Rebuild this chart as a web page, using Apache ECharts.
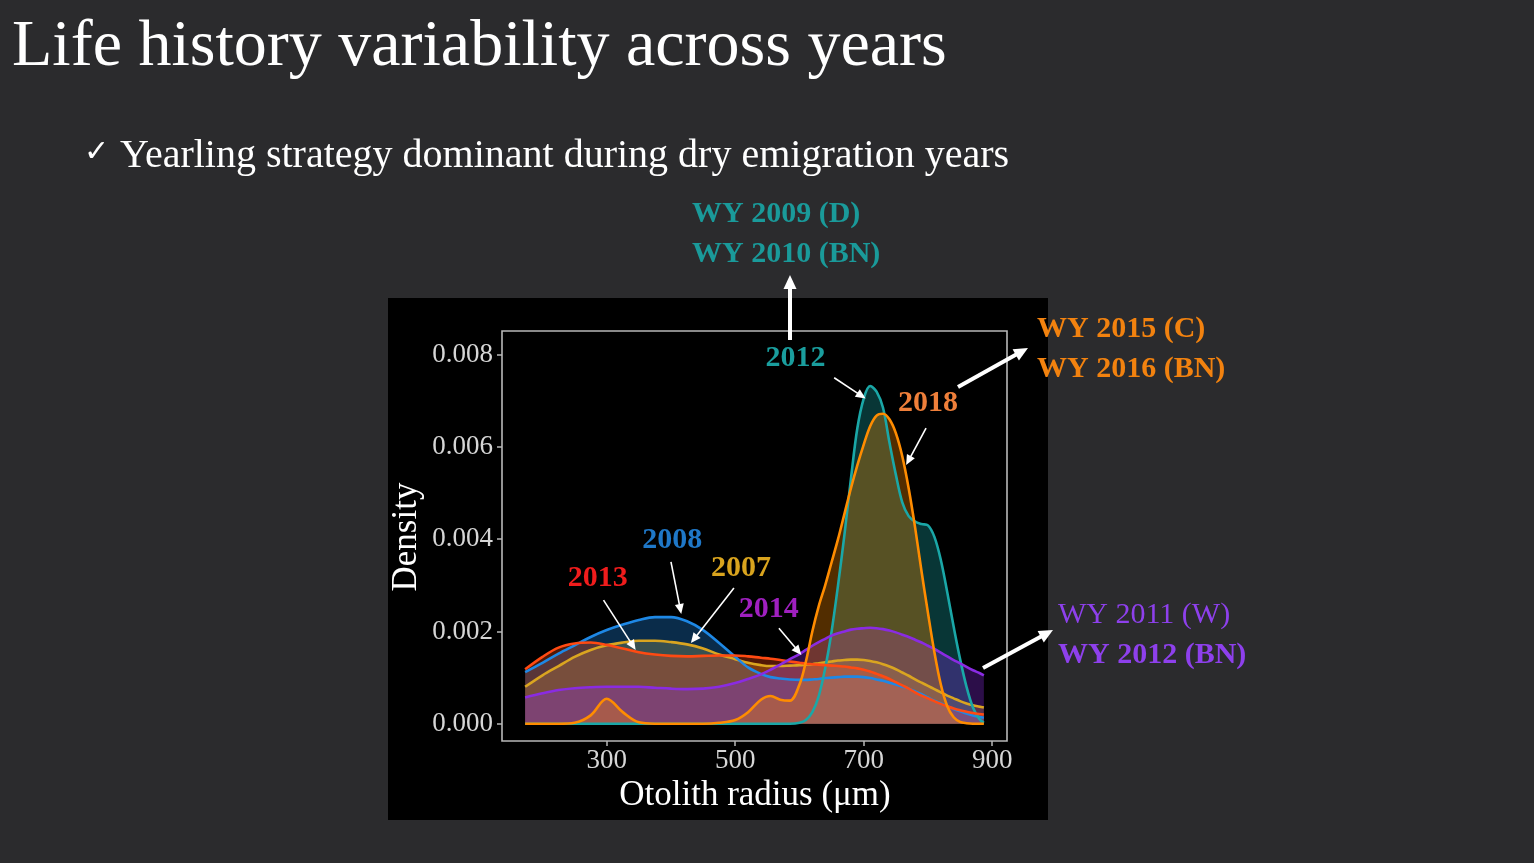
<!DOCTYPE html>
<html>
<head>
<meta charset="utf-8">
<script src="https://cdn.jsdelivr.net/npm/echarts@6/dist/echarts.min.js"></script>
<style>
  html, body { margin: 0; padding: 0; background: #2b2b2d; }
  #chart { width: 1534px; height: 863px; }
</style>
</head>
<body>
<div id="chart"></div>
<script>
///////////////////////////////////////////////////
// Used data (density values are x 1000)
///////////////////////////////////////////////////
var radius = [173, 200, 225, 250, 275, 300, 325, 350, 375, 400, 425, 450, 475, 500,
  520, 540, 555, 570, 585, 600, 610, 620, 630, 640, 650, 660, 670, 680, 690, 700,
  710, 720, 730, 740, 750, 760, 770, 780, 790, 800, 810, 820, 830, 840, 850, 860,
  870, 880, 887];

var d2007 = [0.80, 1.05, 1.25, 1.45, 1.60, 1.70, 1.76, 1.80, 1.80, 1.77, 1.72, 1.63, 1.50, 1.40,
  1.32, 1.27, 1.25, 1.25, 1.26, 1.27, 1.28, 1.29, 1.31, 1.33, 1.35, 1.37, 1.38, 1.39, 1.39, 1.38,
  1.36, 1.33, 1.29, 1.24, 1.18, 1.11, 1.04, 0.96, 0.89, 0.82, 0.75, 0.68, 0.61, 0.55, 0.49, 0.44,
  0.40, 0.37, 0.35];

var d2008 = [1.12, 1.32, 1.52, 1.70, 1.88, 2.03, 2.15, 2.25, 2.31, 2.31, 2.22, 2.03, 1.75, 1.45,
  1.22, 1.08, 1.01, 0.98, 0.96, 0.95, 0.95, 0.96, 0.97, 0.99, 1.00, 1.01, 1.02, 1.02, 1.02, 1.01,
  0.99, 0.96, 0.93, 0.89, 0.85, 0.80, 0.76, 0.70, 0.64, 0.57, 0.50, 0.44, 0.38, 0.32, 0.27, 0.22,
  0.18, 0.15, 0.13];

var d2012 = [0, 0, 0, 0, 0, 0, 0, 0, 0, 0, 0, 0, 0, 0,
  0, 0, 0, 0, 0, 0.02, 0.08, 0.25, 0.60, 1.20, 2.00, 3.00, 4.10, 5.30, 6.40, 7.05,
  7.32, 7.20, 6.85, 6.10, 5.40, 4.80, 4.50, 4.38, 4.33, 4.30, 4.05, 3.55, 2.85, 2.10, 1.40, 0.80,
  0.35, 0.10, 0.02];

var d2013 = [1.18, 1.45, 1.65, 1.74, 1.76, 1.71, 1.63, 1.55, 1.50, 1.47, 1.46, 1.47, 1.48, 1.48,
  1.46, 1.43, 1.41, 1.38, 1.35, 1.32, 1.30, 1.29, 1.28, 1.27, 1.26, 1.25, 1.24, 1.22, 1.20, 1.17,
  1.13, 1.08, 1.03, 0.97, 0.90, 0.83, 0.76, 0.68, 0.61, 0.55, 0.49, 0.43, 0.38, 0.33, 0.29, 0.26,
  0.23, 0.21, 0.20];

var d2014 = [0.57, 0.66, 0.73, 0.77, 0.79, 0.80, 0.80, 0.80, 0.78, 0.76, 0.75, 0.76, 0.80, 0.88,
  0.97, 1.07, 1.17, 1.28, 1.40, 1.51, 1.60, 1.69, 1.77, 1.84, 1.91, 1.96, 2.00, 2.04, 2.06, 2.07,
  2.08, 2.07, 2.05, 2.02, 1.98, 1.93, 1.88, 1.82, 1.76, 1.69, 1.62, 1.54, 1.46, 1.38, 1.31, 1.23,
  1.16, 1.10, 1.05];

var d2018 = [0, 0, 0, 0.02, 0.18, 0.54, 0.25, 0.03, 0, 0, 0, 0, 0.02, 0.08,
  0.25, 0.52, 0.60, 0.52, 0.50, 0.85, 1.35, 2.00, 2.55, 3.00, 3.50, 4.00, 4.55, 5.10, 5.60, 6.05,
  6.45, 6.68, 6.72, 6.60, 6.30, 5.80, 5.10, 4.25, 3.30, 2.40, 1.55, 0.85, 0.38, 0.14, 0.04, 0.01,
  0, 0, 0];

var xTicks = [300, 500, 700, 900];
var yTicks = [0, 2, 4, 6, 8];

var years = ['2007', '2008', '2012', '2013', '2014', '2018'];
var densities = [d2007, d2008, d2012, d2013, d2014, d2018];

///////////////////////////////////////////////////
// Styles
///////////////////////////////////////////////////
var SERIF = "'Liberation Serif', 'Times New Roman', serif";
var lineColors = ['#daa520', '#1e88e5', '#1aa7a7', '#ff4a12', '#8a2be2', '#ff8c00'];
var labelColors = {
  '2007': '#d9a41e', '2008': '#1f78c8', '2012': '#1a9e9e',
  '2013': '#f01c1c', '2014': '#a020c0', '2018': '#ef7f3a'
};

// label position and arrow (from -> to) in data units (x: radius, y: density x 1000)
var annotations = [
  { year: '2012', at: [594, 7.93], from: [654, 7.50], to: [703, 7.05] },
  { year: '2018', at: [800, 6.95], from: [797, 6.41], to: [766, 5.61] },
  { year: '2008', at: [402, 3.98], from: [400, 3.51], to: [416, 2.38] },
  { year: '2007', at: [509, 3.38], from: [498, 2.94], to: [431, 1.75] },
  { year: '2013', at: [286, 3.16], from: [295, 2.68], to: [345, 1.60] },
  { year: '2014', at: [552, 2.49], from: [568, 2.07], to: [603, 1.49] }
];

var series = years.map(function (y, k) {
  return {
    name: y,
    type: 'line',
    smooth: 0.35,
    showSymbol: false,
    data: radius.map(function (x, i) { return [x, densities[k][i]]; }),
    lineStyle: { color: lineColors[k], width: 2.6 },
    areaStyle: { color: lineColors[k], opacity: 0.32 },
    emphasis: { disabled: true },
    z: 2
  };
});

var myChart = echarts.init(document.getElementById('chart'), null, { renderer: 'canvas' });

myChart.setOption({
  backgroundColor: '#2b2b2d',
  animation: false,
  grid: {
    left: 502, top: 331, width: 505, height: 410,
    show: true, borderColor: '#b8b8b8', borderWidth: 1.6, backgroundColor: 'transparent'
  },
  xAxis: {
    type: 'value', min: 137, max: 923,
    axisLine: { show: false, onZero: false },
    splitLine: { show: false },
    axisTick: { show: true, length: 5, customValues: xTicks, lineStyle: { color: '#b8b8b8', width: 1.5 } },
    axisLabel: { customValues: xTicks, margin: 6, color: '#d6d6d6', fontFamily: SERIF, fontSize: 27 }
  },
  yAxis: {
    type: 'value', min: -0.375, max: 8.514,
    axisLine: { show: false, onZero: false },
    splitLine: { show: false },
    axisTick: { show: true, length: 5, customValues: yTicks, lineStyle: { color: '#b8b8b8', width: 1.5 } },
    axisLabel: {
      customValues: yTicks, margin: 9, color: '#d6d6d6', fontFamily: SERIF, fontSize: 27,
      formatter: function (v) { return (v / 1000).toFixed(3); }
    }
  },
  series: series
});

///////////////////////////////////////////////////
// Slide texts and arrows
///////////////////////////////////////////////////
function arrow(p0, p1, width, headLen, headW, z) {
  var dx = p1[0] - p0[0], dy = p1[1] - p0[1];
  var len = Math.sqrt(dx * dx + dy * dy);
  var ux = dx / len, uy = dy / len;
  var bx = p1[0] - ux * headLen, by = p1[1] - uy * headLen;
  var hw = headW / 2;
  return [
    { type: 'line', z: z, shape: { x1: p0[0], y1: p0[1], x2: bx + ux, y2: by + uy },
      style: { stroke: '#ffffff', lineWidth: width } },
    { type: 'polygon', z: z,
      shape: { points: [[p1[0], p1[1]], [bx - uy * hw, by + ux * hw], [bx + uy * hw, by - ux * hw]] },
      style: { fill: '#ffffff' } }
  ];
}

function text(str, x, y, size, color, weight, align) {
  return {
    type: 'text', x: x, y: y, z: 20,
    style: {
      text: str, fill: color, font: (weight || 'normal') + ' ' + size + 'px ' + SERIF,
      textAlign: align || 'left', textVerticalAlign: 'middle'
    }
  };
}

var els = [];
// black picture behind the plot
els.push({ type: 'rect', z: -1, shape: { x: 388, y: 298, width: 660, height: 522 }, style: { fill: '#000000' } });

els.push(text('Life history variability across years', 12, 48, 66, '#ffffff'));
els.push({ type: 'text', x: 84, y: 153, z: 20,
  style: { text: '\u2713', fill: '#ffffff', font: '30px DejaVu Sans', textVerticalAlign: 'middle' } });
els.push(text('Yearling strategy dominant during dry emigration years', 120, 156, 40, '#ffffff'));

els.push(text('WY 2009 (D)', 692, 214, 30, '#1a9a9a', 'bold'));
els.push(text('WY 2010 (BN)', 692, 254, 30, '#1a9a9a', 'bold'));
els.push(text('WY 2015 (C)', 1037, 329, 30, '#f2820f', 'bold'));
els.push(text('WY 2016 (BN)', 1037, 369, 30, '#f2820f', 'bold'));
els.push(text('WY 2011 (W)', 1058, 615, 30, '#8e40ec'));
els.push(text('WY 2012 (BN)', 1058, 655, 30, '#8e40ec', 'bold'));

els = els.concat(arrow([790, 340], [790, 275], 4, 14, 13, 20));
els = els.concat(arrow([958, 387], [1028, 348], 4, 14, 13, 20));
els = els.concat(arrow([983, 668], [1053, 630], 4, 14, 13, 20));

// axis titles
els.push(text('Otolith radius (\u03bcm)', 755, 796, 35, '#ffffff', 'normal', 'center'));
els.push({ type: 'text', x: 407, y: 537, z: 20, rotation: Math.PI / 2,
  style: { text: 'Density', fill: '#ffffff', font: '35px ' + SERIF, textAlign: 'center', textVerticalAlign: 'middle' } });

// year labels inside the plot
annotations.forEach(function (a) {
  var p = myChart.convertToPixel({ gridIndex: 0 }, a.at);
  els.push(text(a.year, p[0], p[1], 30, labelColors[a.year], 'bold', 'center'));
  var p0 = myChart.convertToPixel({ gridIndex: 0 }, a.from);
  var p1 = myChart.convertToPixel({ gridIndex: 0 }, a.to);
  els = els.concat(arrow(p0, p1, 1.6, 10, 9, 20));
});

myChart.setOption({ graphic: { elements: els } });
</script>
</body>
</html>
